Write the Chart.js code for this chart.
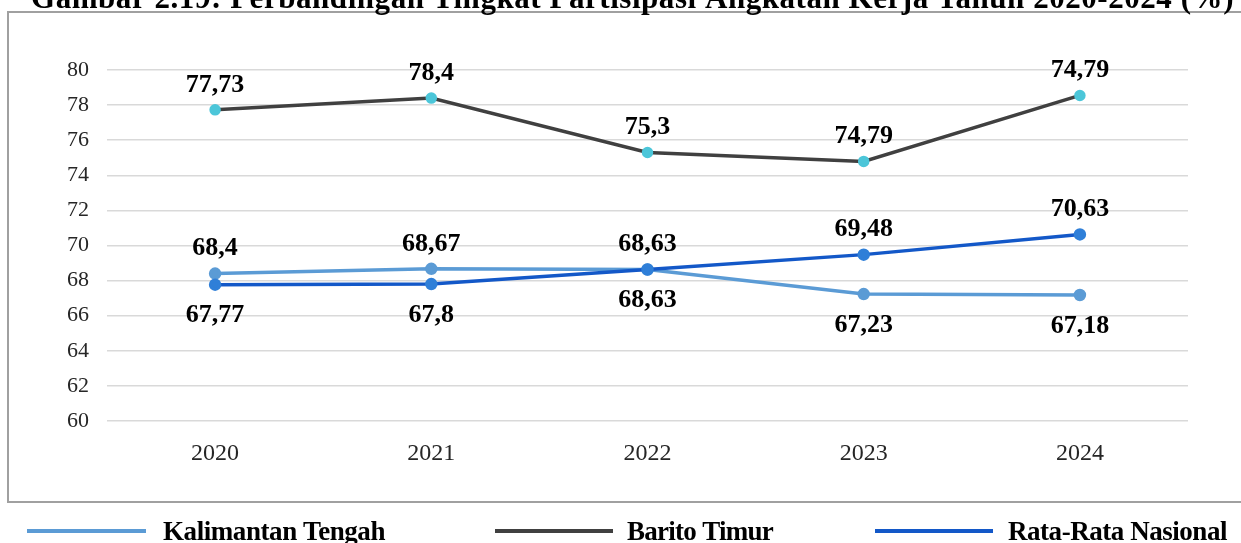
<!DOCTYPE html>
<html><head><meta charset="utf-8">
<script src="https://cdn.jsdelivr.net/npm/chart.js@4.4.1/dist/chart.umd.min.js"></script>
<style>html,body{margin:0;padding:0;background:#fff;overflow:hidden}#wrap{position:relative;width:1241px;height:543px}</style>
</head><body>
<div id="wrap"><canvas id="c" width="1241" height="543"></canvas></div>
<script>
const categories = ['2020', '2021', '2022', '2023', '2024'];
const seriesNames = ['Kalimantan Tengah', 'Barito Timur', 'Rata-Rata Nasional'];
const kalteng = [68.4, 68.67, 68.63, 67.23, 67.18];
const baritoTimur = [77.73, 78.4, 75.3, 74.79, 78.55];
const nasional = [67.77, 67.8, 68.63, 69.48, 70.63];
const kaltengLabels = ['68,4', '68,67', '68,63', '67,23', '67,18'];
const baritoLabels = ['77,73', '78,4', '75,3', '74,79', '74,79'];
const nasionalLabels = ['67,77', '67,8', '68,63', '69,48', '70,63'];
const yTicks = [60, 62, 64, 66, 68, 70, 72, 74, 76, 78, 80];
const titleText = 'Gambar 2.19: Perbandingan Tingkat Partisipasi Angkatan Kerja Tahun 2020-2024 (%)';

const SERIF = '"Liberation Serif", "Times New Roman", serif';
const labelPos = [
  ['up', 'up', 'up', 'down', 'down'],
  ['up', 'up', 'up', 'up', 'up'],
  ['down', 'down', 'down', 'up', 'up']
];
const labelTexts = [kaltengLabels, baritoLabels, nasionalLabels];
const legendBoxes = [
  { lx: 27, lw: 119, tx: 163, tw: 222 },
  { lx: 495, lw: 118, tx: 627, tw: 146 },
  { lx: 875, lw: 118, tx: 1008, tw: 219 }
];

function fitText(ctx, text, x, y, width) {
  ctx.letterSpacing = '0px';
  const w = ctx.measureText(text).width;
  const ls = (width - w) / text.length;
  ctx.letterSpacing = ls + 'px';
  ctx.textAlign = 'left';
  ctx.fillText(text, x, y);
  ctx.letterSpacing = '0px';
}

const decor = {
  id: 'decor',
  beforeDraw(chart) {
    const ctx = chart.ctx;
    ctx.save();
    ctx.fillStyle = '#fff';
    ctx.fillRect(0, 0, chart.width, chart.height);
    ctx.strokeStyle = '#a0a0a0';
    ctx.lineWidth = 2;
    ctx.strokeRect(8, 12, 1300, 490);
    ctx.restore();
  },
  afterDraw(chart) {
    const ctx = chart.ctx;
    ctx.save();
    // title (partially cut off at top)
    ctx.fillStyle = '#000';
    ctx.font = 'bold 31px ' + SERIF;
    ctx.textBaseline = 'alphabetic';
    fitText(ctx, titleText, 31, 8, 1203);
    // data labels
    ctx.font = 'bold 26px ' + SERIF;
    ctx.textBaseline = 'middle';
    ctx.textAlign = 'center';
    chart.data.datasets.forEach((ds, di) => {
      const meta = chart.getDatasetMeta(di);
      meta.data.forEach((pt, i) => {
        const up = labelPos[di][i] === 'up';
        ctx.fillText(labelTexts[di][i], pt.x, pt.y + (up ? -25 : 31));
      });
    });
    // legend
    ctx.font = 'bold 27px ' + SERIF;
    ctx.textBaseline = 'alphabetic';
    chart.data.datasets.forEach((ds, di) => {
      const b = legendBoxes[di];
      ctx.strokeStyle = ds.borderColor;
      ctx.lineWidth = 4;
      ctx.beginPath();
      ctx.moveTo(b.lx, 531);
      ctx.lineTo(b.lx + b.lw, 531);
      ctx.stroke();
      ctx.fillStyle = '#000';
      fitText(ctx, ds.label, b.tx, 540, b.tw);
    });
    ctx.restore();
  }
};

new Chart(document.getElementById('c'), {
  type: 'line',
  data: {
    labels: categories,
    datasets: [
      { label: seriesNames[0], data: kalteng, borderColor: '#5B9BD5', backgroundColor: '#5B9BD5',
        pointBackgroundColor: '#5B9BD5', pointBorderColor: '#5B9BD5', borderWidth: 3.5, pointRadius: 4.5, order: 2 },
      { label: seriesNames[1], data: baritoTimur, borderColor: '#404040', backgroundColor: '#404040',
        pointBackgroundColor: '#4CC6D9', pointBorderColor: '#4CC6D9', borderWidth: 3.5, pointRadius: 4, order: 1 },
      { label: seriesNames[2], data: nasional, borderColor: '#1358C8', backgroundColor: '#1358C8',
        pointBackgroundColor: '#2F7FD8', pointBorderColor: '#2F7FD8', borderWidth: 3.5, pointRadius: 4.5, order: 0 }
    ]
  },
  options: {
    responsive: false,
    animation: false,
    devicePixelRatio: 1,
    layout: { padding: { top: 70, right: 53, left: 0, bottom: 0 } },
    plugins: { legend: { display: false }, tooltip: { enabled: false }, title: { display: false } },
    scales: {
      x: {
        offset: true,
        grid: { display: false, drawTicks: false },
        border: { display: false },
        ticks: { color: '#262626', font: { family: SERIF, size: 24 }, padding: 18, maxRotation: 0 },
        afterFit(s) { s.height = 122; }
      },
      y: {
        min: 60, max: 80,
        afterBuildTicks(s) { s.ticks = yTicks.map(v => ({ value: v })); },
        grid: { color: '#d9d9d9', lineWidth: 1.5, drawTicks: false },
        border: { display: false },
        ticks: { color: '#262626', font: { family: SERIF, size: 22 }, padding: 18 },
        afterFit(s) { s.width = 107; }
      }
    }
  },
  plugins: [decor]
});
</script>
</body></html>
